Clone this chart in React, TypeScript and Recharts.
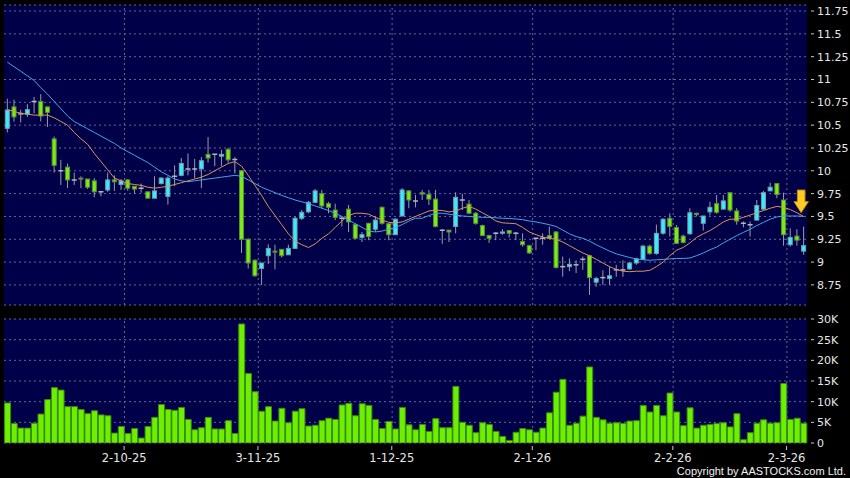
import React from "react";
import {
  ComposedChart,
  Bar,
  Line,
  XAxis,
  YAxis,
  CartesianGrid,
  ReferenceLine,
  ReferenceDot,
} from "recharts";

// daily candles
const opens = [
  10.465, 10.7, 10.62, 10.62, 10.76, 10.76, 10.7, 10.35, 10.0, 10.04,
  9.9, 9.92, 9.91, 9.89, 9.77, 9.79, 9.9, 9.85, 9.9, 9.83,
  9.81, 9.77, 9.7, 9.86, 9.72, 9.94, 9.95, 10.02, 10.02, 10.02,
  10.18, 10.18, 10.16, 10.235, 10.125, 10.0, 9.25, 9.02, 8.93, 9.07,
  9.12, 9.14, 9.08, 9.15, 9.48, 9.55, 9.655, 9.75, 9.64, 9.57,
  9.48, 9.58, 9.41, 9.27, 9.425, 9.36, 9.6, 9.42, 9.3, 9.505,
  9.78, 9.67, 9.76, 9.74, 9.69, 9.35, 9.35, 9.39, 9.68, 9.635,
  9.535, 9.4, 9.29, 9.316, 9.316, 9.345, 9.316, 9.225, 9.18, 9.26,
  9.26, 9.29, 9.33, 8.95, 8.95, 8.97, 9.03, 9.07, 8.78, 8.83,
  8.82, 8.915, 8.915, 8.925, 8.99, 9.03, 9.175, 9.095, 9.316, 9.48,
  9.38, 9.285, 9.31, 9.535, 9.425, 9.55, 9.64, 9.58, 9.76, 9.56,
  9.425, 9.41, 9.46, 9.58, 9.78, 9.86, 9.68, 9.19, 9.285, 9.12,
];
const highs = [
  10.79, 10.78, 10.67, 10.73, 10.81, 10.84, 10.7, 10.376, 10.12, 10.08,
  9.98, 9.94, 9.91, 9.92, 9.78, 9.98, 9.95, 9.91, 9.91, 9.83,
  9.86, 9.77, 9.94, 9.93, 9.94, 10.06, 10.14, 10.19, 10.13, 10.15,
  10.37, 10.18, 10.23, 10.25, 10.15, 10.01, 9.26, 9.03, 8.99, 9.195,
  9.19, 9.14, 9.19, 9.5, 9.57, 9.67, 9.8, 9.79, 9.66, 9.64,
  9.5, 9.625, 9.425, 9.33, 9.43, 9.5, 9.61, 9.425, 9.48, 9.81,
  9.79, 9.735, 9.79, 9.79, 9.79, 9.36, 9.35, 9.765, 9.75, 9.68,
  9.55, 9.41, 9.3, 9.33, 9.36, 9.35, 9.33, 9.316, 9.19, 9.26,
  9.316, 9.39, 9.34, 9.06, 9.04, 9.02, 9.06, 9.08, 8.84, 8.91,
  8.95, 8.97, 9.02, 8.995, 9.05, 9.19, 9.19, 9.41, 9.48, 9.535,
  9.405, 9.3, 9.59, 9.54, 9.505, 9.66, 9.735, 9.735, 9.76, 9.59,
  9.445, 9.445, 9.68, 9.78, 9.87, 9.86, 9.76, 9.37, 9.36, 9.39,
];
const lows = [
  10.42, 10.54, 10.53, 10.59, 10.63, 10.54, 10.48, 9.98, 9.845, 9.81,
  9.845, 9.81, 9.8, 9.71, 9.72, 9.77, 9.78, 9.79, 9.78, 9.75,
  9.76, 9.7, 9.7, 9.85, 9.63, 9.83, 9.94, 9.95, 9.92, 9.81,
  10.09, 10.05, 10.05, 10.09, 9.97, 9.1, 8.93, 8.84, 8.75, 8.98,
  8.92, 9.05, 9.08, 9.15, 9.46, 9.535, 9.645, 9.59, 9.535, 9.46,
  9.39, 9.33, 9.26, 9.22, 9.24, 9.33, 9.41, 9.24, 9.3, 9.5,
  9.59, 9.6, 9.68, 9.625, 9.38, 9.2, 9.22, 9.315, 9.57, 9.53,
  9.41, 9.285, 9.21, 9.24, 9.3, 9.27, 9.24, 9.17, 9.09, 9.13,
  9.19, 9.26, 8.93, 8.84, 8.9, 8.88, 8.915, 8.64, 8.73, 8.75,
  8.75, 8.84, 8.84, 8.915, 8.97, 9.025, 9.08, 9.08, 9.3, 9.28,
  9.2, 9.205, 9.3, 9.5, 9.345, 9.51, 9.53, 9.58, 9.55, 9.41,
  9.38, 9.28, 9.455, 9.57, 9.78, 9.7, 9.18, 9.17, 9.18, 9.08,
];
const closes = [
  10.665, 10.59, 10.63, 10.67, 10.76, 10.6, 10.64, 10.06, 10.0, 9.9,
  9.9, 9.91, 9.82, 9.77, 9.77, 9.9, 9.88, 9.89, 9.81, 9.8,
  9.81, 9.7, 9.78, 9.92, 9.92, 9.94, 10.08, 10.02, 10.02, 10.11,
  10.14, 10.18, 10.18, 10.12, 10.125, 9.25, 8.99, 8.85, 8.99, 9.15,
  9.11, 9.07, 9.15, 9.48, 9.545, 9.655, 9.78, 9.615, 9.6, 9.49,
  9.48, 9.44, 9.26, 9.3, 9.28, 9.46, 9.425, 9.3, 9.47, 9.79,
  9.68, 9.67, 9.745, 9.69, 9.39, 9.35, 9.33, 9.71, 9.68, 9.535,
  9.425, 9.29, 9.26, 9.316, 9.33, 9.316, 9.316, 9.19, 9.1, 9.26,
  9.26, 9.26, 8.94, 8.95, 8.975, 8.97, 9.03, 8.83, 8.82, 8.83,
  8.85, 8.915, 8.915, 8.99, 9.035, 9.175, 9.095, 9.315, 9.47, 9.39,
  9.205, 9.215, 9.54, 9.52, 9.505, 9.6, 9.545, 9.67, 9.57, 9.45,
  9.425, 9.41, 9.62, 9.76, 9.82, 9.74, 9.3, 9.27, 9.24, 9.18,
];

// moving averages as drawn (orange = short, blue = long)
const maShort = [
  10.67, 10.65, 10.63, 10.62, 10.61, 10.61, 10.61, 10.58, 10.54, 10.5,
  10.42, 10.35, 10.29, 10.19, 10.1, 10.01, 9.92, 9.89, 9.86, 9.85,
  9.84, 9.82, 9.81, 9.82, 9.83, 9.85, 9.87, 9.89, 9.91, 9.93,
  9.96, 10.0, 10.04, 10.08, 10.1, 10.05, 9.95, 9.84, 9.73, 9.61,
  9.51, 9.41, 9.31, 9.23, 9.19, 9.16, 9.2, 9.26, 9.31, 9.38,
  9.45, 9.51, 9.535, 9.535, 9.525, 9.49, 9.46, 9.435, 9.43, 9.44,
  9.47, 9.5, 9.53, 9.56, 9.57, 9.565, 9.55, 9.56, 9.59, 9.61,
  9.58, 9.54, 9.5, 9.45, 9.43, 9.425, 9.42, 9.38, 9.33, 9.3,
  9.275, 9.26, 9.25, 9.22, 9.18, 9.14, 9.1, 9.07, 9.03, 8.99,
  8.95, 8.92, 8.9, 8.895, 8.9, 8.9, 8.91, 8.95, 9.0, 9.07,
  9.13, 9.16, 9.21, 9.27, 9.31, 9.345, 9.39, 9.44, 9.47, 9.47,
  9.49, 9.515, 9.54, 9.565, 9.59, 9.61, 9.6, 9.575, 9.54, 9.5,
];
const maLong = [
  11.19, 11.14, 11.09, 11.04, 10.99, 10.91, 10.84, 10.76, 10.68, 10.6,
  10.54, 10.5, 10.46, 10.42, 10.38, 10.34, 10.3, 10.25, 10.21, 10.17,
  10.13, 10.09, 10.04, 9.99, 9.95, 9.91, 9.89, 9.88, 9.89, 9.9,
  9.91, 9.92, 9.93, 9.94, 9.95, 9.94, 9.9, 9.86, 9.82, 9.79,
  9.76, 9.73, 9.705, 9.68, 9.66, 9.64, 9.615, 9.59, 9.565, 9.535,
  9.5, 9.46, 9.42, 9.38, 9.34, 9.33, 9.34, 9.36, 9.38, 9.41,
  9.45, 9.48, 9.48, 9.51, 9.535, 9.535, 9.525, 9.515, 9.505, 9.5,
  9.495, 9.49, 9.49, 9.485, 9.48, 9.478, 9.472, 9.465, 9.45, 9.44,
  9.425, 9.41, 9.39, 9.35, 9.31, 9.28, 9.26, 9.23, 9.19, 9.155,
  9.12, 9.09, 9.07, 9.05, 9.035, 9.025, 9.02, 9.025, 9.03, 9.035,
  9.04, 9.04, 9.045, 9.07, 9.1, 9.135, 9.165, 9.21, 9.25, 9.29,
  9.325, 9.36, 9.4, 9.435, 9.47, 9.495, 9.505, 9.505, 9.505, 9.5,
];

// volume in thousands
const volumes = [
  9.7, 4.7, 3.6, 3.6, 4.8, 7.0, 10.5, 13.4, 12.8, 8.8,
  8.8, 8.1, 7.1, 7.8, 6.8, 6.6, 2.4, 4.0, 2.3, 3.5,
  1.2, 4.0, 6.2, 9.3, 8.1, 7.9, 8.6, 5.7, 3.2, 3.7,
  6.2, 3.4, 3.4, 5.4, 2.3, 28.8, 16.8, 12.4, 7.7, 8.8,
  5.3, 8.4, 4.9, 7.7, 8.3, 4.1, 4.3, 5.4, 6.0, 5.7,
  9.2, 9.6, 6.6, 9.5, 9.1, 5.7, 3.5, 5.2, 3.4, 8.6,
  4.4, 3.2, 4.5, 2.8, 5.9, 3.7, 3.7, 13.7, 5.0, 4.3,
  2.5, 4.9, 4.5, 2.8, 1.6, 0.6, 2.6, 3.5, 3.2, 2.6,
  3.6, 7.3, 12.3, 15.4, 4.3, 4.8, 6.5, 18.4, 6.2, 5.6,
  4.8, 4.9, 4.7, 5.3, 5.4, 9.1, 7.5, 9.1, 6.6, 12.1,
  7.5, 4.2, 8.5, 3.6, 4.3, 4.5, 4.7, 4.9, 3.9, 7.1,
  0.8, 2.5, 4.8, 5.6, 4.8, 4.9, 14.4, 5.7, 6.0, 4.8,
];

const dateTicks = [17, 37, 57, 78, 99, 116];
const dateLabels = ["2-10-25", "3-11-25", "1-12-25", "2-1-26", "2-2-26", "2-3-26"];
const priceTicks = [8.75, 9, 9.25, 9.5, 9.75, 10, 10.25, 10.5, 10.75, 11, 11.25, 11.5, 11.75];
const volTicks = [0, 5, 10, 15, 20, 25, 30];

const rows = opens.map((o, i) => ({
  idx: i,
  o,
  h: highs[i],
  l: lows[i],
  c: closes[i],
  range: [lows[i], highs[i]],
  maShort: maShort[i],
  maLong: maLong[i],
  vol: volumes[i],
}));

const FONT = "DejaVu Sans, Verdana, sans-serif";
const GRID = "#66669a";

const Candle = (p: any) => {
  const { x, y, width, height, payload } = p;
  if (x == null || payload == null) return <g />;
  const top = Math.min(y, y + height);
  const hh = Math.abs(height);
  const span = payload.h - payload.l || 1;
  const toY = (v: number) => top + ((payload.h - v) / span) * hh;
  const cx = x + width / 2;
  const bTop = toY(Math.max(payload.o, payload.c));
  const bBot = toY(Math.min(payload.o, payload.c));
  const up = payload.c > payload.o;
  const doji = Math.abs(payload.c - payload.o) < 0.004;
  return (
    <g>
      <line x1={cx} x2={cx} y1={top} y2={top + hh} stroke="#9c9caa" strokeWidth={1} />
      {doji ? (
        <line x1={x} x2={x + width} y1={bTop} y2={bTop} stroke="#b4b4bc" strokeWidth={1.5} />
      ) : (
        <rect
          x={x + 0.5}
          y={bTop}
          width={width - 1}
          height={Math.max(bBot - bTop, 1)}
          fill={up ? "#33eeff" : "#77ee11"}
          stroke={up ? "#7d9aa6" : "#5e8c3c"}
          strokeWidth={1}
        />
      )}
    </g>
  );
};

const Arrow = (p: any) => {
  const { cx, cy } = p;
  if (cx == null) return <g />;
  const x = cx - 2.5;
  const pts = [
    [x - 3.8, cy - 11.3],
    [x + 3.8, cy - 11.3],
    [x + 3.8, cy + 0.3],
    [x + 7.2, cy + 0.3],
    [x, cy + 11.3],
    [x - 7.2, cy + 0.3],
    [x - 3.8, cy + 0.3],
  ]
    .map((q) => q.join(","))
    .join(" ");
  return <polygon points={pts} fill="#ffcc22" stroke="#c98a10" strokeWidth={1} />;
};

const YTick = (p: any) => {
  const { x, y, payload, fmt } = p;
  return (
    <g>
      <line x1={x - 6} x2={x - 3} y1={y} y2={y} stroke="#cccccc" />
      <text x={x} y={y} dy={4} fill="#e6e6e6" fontSize={11} fontFamily={FONT}>
        {fmt ? fmt(payload.value) : payload.value}
      </text>
    </g>
  );
};

const XTick = (p: any) => {
  const { x, y, payload } = p;
  const k = dateTicks.indexOf(payload.value);
  if (k < 0) return <g />;
  const tx = x + 3;
  return (
    <g>
      <line x1={tx} x2={tx} y1={y + 3} y2={y + 7} stroke="#cccccc" />
      <text x={tx} y={y + 19} textAnchor="middle" fill="#e6e6e6" fontSize={11.5} fontFamily={FONT}>
        {dateLabels[k]}
      </text>
    </g>
  );
};

const volFmt = (v: number) => (v === 0 ? "0" : `${v}K`);

export default function App() {
  return (
    <div
      style={{
        position: "fixed",
        left: 0,
        top: 0,
        width: 850,
        height: 478,
        background: "#000000",
        overflow: "hidden",
      }}
    >
      <div style={{ position: "absolute", left: 0, top: 0 }}>
        <ComposedChart
          width={850}
          height={310}
          data={rows}
          margin={{ top: 5, right: 0, bottom: 5, left: 4 }}
          barCategoryGap="12%"
        >
          <CartesianGrid vertical={false} stroke={GRID} strokeDasharray="2 3" fill="#000048" fillOpacity={1} />
          <XAxis dataKey="idx" hide />
          <YAxis
            orientation="right"
            width={43}
            domain={[8.53, 11.816]}
            allowDataOverflow
            ticks={priceTicks}
            interval={0}
            axisLine={false}
            tickLine={false}
            tickSize={0}
            tickMargin={10}
            tick={(p: any) => <YTick {...p} />}
          />
          {dateTicks.map((t) => (
            <ReferenceLine key={t} x={t} position="end" stroke={GRID} strokeDasharray="2 3" />
          ))}
          <Bar dataKey="range" shape={(p: any) => <Candle {...p} />} isAnimationActive={false} />
          <Line dataKey="maLong" stroke="#3fa6e8" strokeWidth={1} dot={false} isAnimationActive={false} />
          <Line dataKey="maShort" stroke="#e0905a" strokeWidth={1} dot={false} isAnimationActive={false} />
          <ReferenceDot x={119} y={9.665} r={0} shape={(p: any) => <Arrow {...p} />} />
        </ComposedChart>
      </div>
      <div style={{ position: "absolute", left: 0, top: 310 }}>
        <ComposedChart
          width={850}
          height={168}
          data={rows}
          margin={{ top: 9, right: 0, bottom: 15, left: 4 }}
          barCategoryGap="8%"
        >
          <CartesianGrid vertical={false} stroke={GRID} strokeDasharray="2 3" fill="#000048" fillOpacity={1} />
          <XAxis
            dataKey="idx"
            interval={0}
            height={20}
            axisLine={false}
            tickLine={false}
            tickSize={0}
            tickMargin={0}
            tick={(p: any) => <XTick {...p} />}
          />
          <YAxis
            orientation="right"
            width={43}
            domain={[0, 30]}
            allowDataOverflow
            ticks={volTicks}
            interval={0}
            axisLine={false}
            tickLine={false}
            tickSize={0}
            tickMargin={10}
            tick={(p: any) => <YTick {...p} fmt={volFmt} />}
          />
          {dateTicks.map((t) => (
            <ReferenceLine key={t} x={t} position="end" stroke={GRID} strokeDasharray="2 3" />
          ))}
          <Bar dataKey="vol" fill="#6cf000" stroke="#3a8a10" strokeWidth={1} isAnimationActive={false} />
        </ComposedChart>
      </div>
      <svg style={{ position: "absolute", left: 0, top: 459 }} width={850} height={19}>
        <text
          x={846}
          y={15.5}
          textAnchor="end"
          fill="#f0f0f0"
          fontSize={11}
          fontFamily="Liberation Sans, Arial, sans-serif"
        >
          Copyright by AASTOCKS.com Ltd.
        </text>
      </svg>
    </div>
  );
}
